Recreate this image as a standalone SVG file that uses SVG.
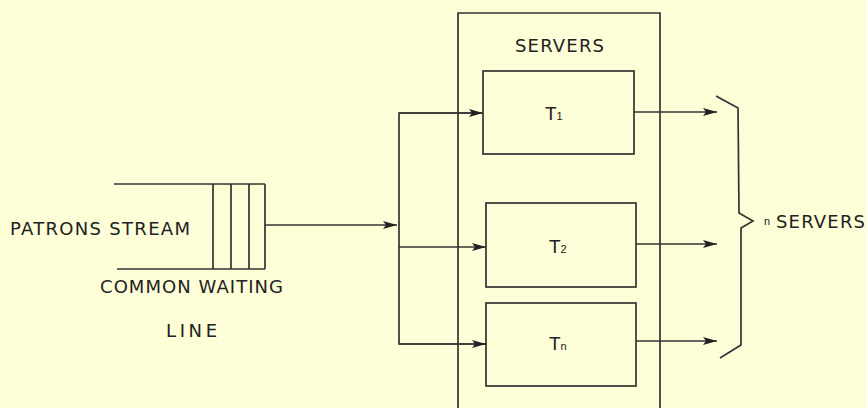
<svg xmlns="http://www.w3.org/2000/svg" width="867" height="408" viewBox="0 0 867 408">
<style>
.ln{fill:none;stroke:#333;stroke-width:1.7}
.tx{font-family:"DejaVu Sans","Liberation Sans",sans-serif;font-size:18px;fill:#222}
.lb{font-family:"Liberation Sans",sans-serif;font-size:19px;fill:#222}
.sub{font-family:"Liberation Sans",sans-serif;font-size:11px;fill:#222}
</style>
<defs>
<marker id="ah" viewBox="0 0 14 8" refX="14" refY="4" markerWidth="14" markerHeight="8" markerUnits="userSpaceOnUse" orient="auto">
<path d="M0,0 L14,4 L0,8 L3,4 Z" fill="#222"/>
</marker>
</defs>
<rect width="867" height="408" fill="#fdfdd8"/>
<g id="queue">
<path class="ln" d="M114,184 H265 M117,269 H265 M213,184 V269 M231,184 V269 M249,184 V269 M265,184 V269"/>
<text class="tx" x="10" y="235" textLength="180" lengthAdjust="spacing">PATRONS STREAM</text>
<text class="tx" x="100" y="293" textLength="183" lengthAdjust="spacing">COMMON WAITING</text>
<text class="tx" x="166" y="337" textLength="51" lengthAdjust="spacing">LINE</text>
</g>
<g id="servers">
<path class="ln" d="M458,408 V13 H660 V408"/>
<text class="tx" x="515" y="52" textLength="89" lengthAdjust="spacing">SERVERS</text>
</g>
<g id="t1">
<rect class="ln" x="483" y="71" width="151" height="83"/>
<text class="lb" x="545" y="120">T<tspan class="sub">1</tspan></text>
</g>
<g id="t2">
<rect class="ln" x="486" y="203" width="150" height="84"/>
<text class="lb" x="549" y="253">T<tspan class="sub">2</tspan></text>
</g>
<g id="tn">
<rect class="ln" x="486" y="303" width="150" height="83"/>
<text class="lb" x="549" y="350">T<tspan class="sub">n</tspan></text>
</g>
<g id="brace">
<path class="ln" d="M716,96 L738,108 L739,213 L753,221 L741,228 L741,345 L720,358"/>
<text class="sub" x="764" y="225">n</text>
<text class="tx" x="776" y="228" textLength="89" lengthAdjust="spacing">SERVERS</text>
</g>
<g id="connectors">
<path class="ln" d="M265,225 H397" marker-end="url(#ah)"/>
<path class="ln" d="M483,113 H399 V344 H486" />
<path class="ln" d="M399,113 H483" marker-end="url(#ah)"/>
<path class="ln" d="M399,247 H486" marker-end="url(#ah)"/>
<path class="ln" d="M399,344 H486" marker-end="url(#ah)"/>
<path class="ln" d="M634,112 H717" marker-end="url(#ah)"/>
<path class="ln" d="M636,244 H717" marker-end="url(#ah)"/>
<path class="ln" d="M636,341 H717" marker-end="url(#ah)"/>
</g>
</svg>
